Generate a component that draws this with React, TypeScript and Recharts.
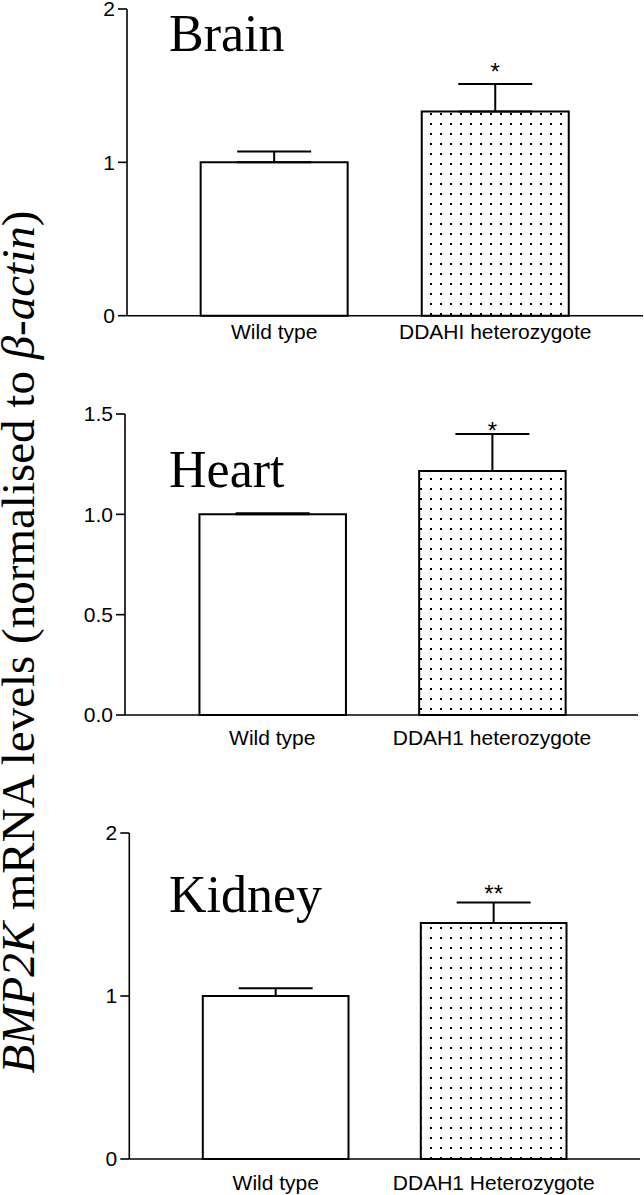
import { BarChart, Bar, XAxis, YAxis, ErrorBar, Cell, LabelList } from "recharts";

// data
const brainGroups = ["Wild type", "DDAHI heterozygote"];
const brainMean = [1.0, 1.332];
const brainSem = [0.07, 0.179];
const brainSig = ["", "*"];

const heartGroups = ["Wild type", "DDAH1 heterozygote"];
const heartMean = [1.0, 1.216];
const heartSem = [0.005, 0.184];
const heartSig = ["", "*"];

const kidneyGroups = ["Wild type", "DDAH1 Heterozygote"];
const kidneyMean = [1.0, 1.448];
const kidneySem = [0.047, 0.126];
const kidneySig = ["", "**"];

const brainTicks = [0, 1, 2];
const heartTicks = [0, 0.5, 1, 1.5];
const kidneyTicks = [0, 1, 2];

const SANS = "Liberation Sans, Arial, sans-serif";
const SERIF = "Liberation Serif, Times New Roman, serif";

type PanelProps = {
  groups: string[];
  mean: number[];
  sem: number[];
  sig: string[];
  ticks: number[];
  decimals: number;
  axisX: number;
  yTop: number;
  yBottom: number;
  c1: number;
  c2: number;
  barW: number;
  axisEnd: number;
  labelGap: number;
  starGap: number;
};

function Panel(p: PanelProps) {
  const data = p.groups.map((g, i) => ({
    name: g,
    value: p.mean[i],
    err: [0, p.sem[i]],
    sig: p.sig[i],
  }));
  const band = p.c2 - p.c1;
  const padL = p.c1 - band / 2 - p.axisX;
  const padR = p.axisEnd - (p.c2 + band / 2);
  const mTop = 20;
  const plotH = p.yBottom - p.yTop;
  const h = plotH + mTop + 50;
  const max = p.ticks[p.ticks.length - 1];

  return (
    <div style={{ position: "absolute", left: 0, top: p.yTop - mTop }}>
      <BarChart width={p.axisEnd} height={h} data={data} margin={{ top: mTop, right: 0, left: 0, bottom: 0 }}>
        <XAxis
          dataKey="name"
          height={50}
          padding={{ left: padL, right: padR }}
          axisLine={{ stroke: "#000", strokeWidth: 1.6 }}
          tickLine={false}
          tickSize={0}
          tickMargin={p.labelGap}
          tick={{ fill: "#000", fontSize: 21, fontFamily: SANS }}
        />
        <YAxis
          width={p.axisX}
          domain={[0, max]}
          ticks={p.ticks}
          interval={0}
          tickFormatter={(v: number) => v.toFixed(p.decimals)}
          axisLine={{ stroke: "#000", strokeWidth: 1.6 }}
          tickLine={{ stroke: "#000", strokeWidth: 1.6 }}
          tickSize={9}
          tickMargin={3}
          tick={{ fill: "#000", fontSize: 21, fontFamily: SANS }}
        />
        <Bar dataKey="value" barSize={p.barW} stroke="#000" strokeWidth={2} isAnimationActive={false}>
          {data.map((d, i) => (
            <Cell key={d.name} fill={i === 0 ? "#fff" : "url(#dots)"} />
          ))}
          <ErrorBar dataKey="err" width={37} stroke="#000" strokeWidth={2} />
          <LabelList
            dataKey="sig"
            content={(lp: any) => {
              const i = lp.index ?? (lp.x > 380 ? 1 : 0);
              if (!p.sig[i]) return null;
              const pxPerUnit = lp.height / p.mean[i];
              const cy = lp.y - p.sem[i] * pxPerUnit - p.starGap;
              return (
                <text
                  x={lp.x + lp.width / 2}
                  y={cy + 12.5}
                  textAnchor="middle"
                  fontSize={24}
                  fontFamily={SANS}
                  fill="#000"
                >
                  {p.sig[i]}
                </text>
              );
            }}
          />
        </Bar>
      </BarChart>
    </div>
  );
}

export default function App() {
  return (
    <div
      style={{
        position: "absolute",
        left: 0,
        top: 0,
        width: 644,
        height: 1195,
        background: "#fff",
        overflow: "hidden",
      }}
    >
      <Panel
        groups={brainGroups}
        mean={brainMean}
        sem={brainSem}
        sig={brainSig}
        ticks={brainTicks}
        decimals={0}
        axisX={127}
        yTop={9.3}
        yBottom={316}
        c1={274.2}
        c2={495.3}
        barW={147}
        axisEnd={643}
        labelGap={8}
        starGap={16}
      />
      <Panel
        groups={heartGroups}
        mean={heartMean}
        sem={heartSem}
        sig={heartSig}
        ticks={heartTicks}
        decimals={1}
        axisX={125}
        yTop={414}
        yBottom={715}
        c1={272.3}
        c2={492}
        barW={146.5}
        axisEnd={638}
        labelGap={15}
        starGap={8}
      />
      <Panel
        groups={kidneyGroups}
        mean={kidneyMean}
        sem={kidneySem}
        sig={kidneySig}
        ticks={kidneyTicks}
        decimals={0}
        axisX={129.3}
        yTop={833.3}
        yBottom={1159.3}
        c1={275.8}
        c2={493.8}
        barW={145.7}
        axisEnd={640}
        labelGap={16}
        starGap={13}
      />
      <svg
        width={644}
        height={1195}
        style={{ position: "absolute", left: 0, top: 0, pointerEvents: "none" }}
      >
        <defs>
          <pattern id="dots" patternUnits="userSpaceOnUse" width={10} height={10}>
            <rect width={10} height={10} fill="#fff" />
            <rect x={0} y={4} width={2} height={2} fill="#000" />
          </pattern>
        </defs>
        <text x={169} y={51} fontFamily={SERIF} fontSize={52} fill="#000">
          Brain
        </text>
        <text x={169} y={487} fontFamily={SERIF} fontSize={52} fill="#000">
          Heart
        </text>
        <text x={169} y={912} fontFamily={SERIF} fontSize={52} fill="#000">
          Kidney
        </text>
        <text
          transform="translate(34,642) rotate(-90)"
          textAnchor="middle"
          fontFamily={SERIF}
          fontSize={47}
          fill="#000"
        >
          <tspan fontStyle="italic">BMP2K</tspan> mRNA levels (normalised to <tspan fontStyle="italic">β-actin</tspan>)
        </text>
      </svg>
    </div>
  );
}
